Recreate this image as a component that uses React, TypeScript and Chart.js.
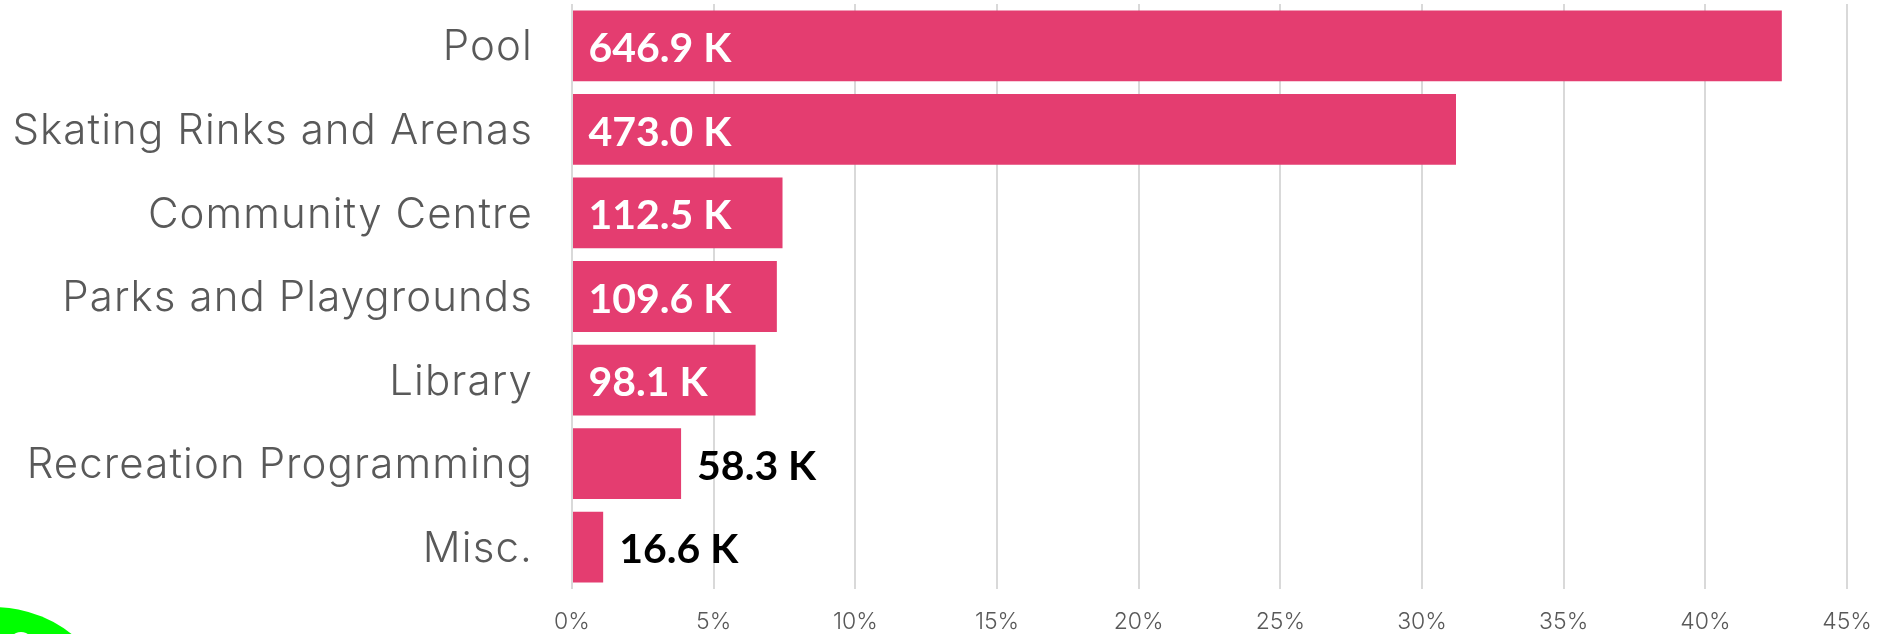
import React, { useEffect, useRef } from "react";
import { Chart, registerables } from "chart.js";

Chart.register(...registerables);

const categories = ["Pool", "Skating Rinks and Arenas", "Community Centre", "Parks and Playgrounds", "Library", "Recreation Programming", "Misc."];
const sharePercent = [42.7, 31.2, 7.43, 7.23, 6.48, 3.85, 1.1];
const valueLabels = ["646.9 K", "473.0 K", "112.5 K", "109.6 K", "98.1 K", "58.3 K", "16.6 K"];
const xTicks = [0, 5, 10, 15, 20, 25, 30, 35, 40, 45];

const AXIS_FONT = "Inter, 'Open Sans', sans-serif";
const VALUE_FONT = "Lato, 'Open Sans', sans-serif";

const valueLabelPlugin = {
  id: "valueLabels",
  afterDatasetsDraw(chart: any) {
    const { ctx } = chart;
    const meta = chart.getDatasetMeta(0);
    ctx.save();
    ctx.font = `bold 41px ${VALUE_FONT}`;
    ctx.textBaseline = "middle";
    ctx.textAlign = "left";
    meta.data.forEach((bar: any, i: number) => {
      const text = valueLabels[i];
      const w = ctx.measureText(text).width;
      const barLen = bar.x - bar.base;
      if (w + 34 < barLen) {
        ctx.fillStyle = "#FFFFFF";
        ctx.fillText(text, bar.base + 15.5, bar.y + 3);
      } else {
        ctx.fillStyle = "#000000";
        ctx.fillText(text, bar.x + 16, bar.y + 3);
      }
    });
    ctx.restore();
  },
};

export default function App() {
  const ref = useRef<HTMLCanvasElement | null>(null);
  useEffect(() => {
    document.body.style.margin = "0";
    const chart = new Chart(ref.current as HTMLCanvasElement, {
      type: "bar",
      data: {
        labels: categories,
        datasets: [
          {
            data: sharePercent,
            backgroundColor: "#E43D70",
            barPercentage: 0.847,
            categoryPercentage: 1,
          },
        ],
      },
      options: {
        indexAxis: "y",
        animation: false,
        responsive: false,
        layout: { padding: { top: 4, right: 41, bottom: 0, left: 0 } },
        plugins: { legend: { display: false }, tooltip: { enabled: false } },
        scales: {
          x: {
            min: 0,
            max: 45,
            afterBuildTicks: (axis: any) => {
              axis.ticks = xTicks.map((value) => ({ value }));
            },
            afterFit: (axis: any) => {
              axis.height = 45;
              axis.paddingLeft = 0;
              axis.paddingRight = 0;
            },
            grid: { color: "#D9D9D9", lineWidth: 2, drawTicks: false },
            border: { display: false },
            ticks: {
              color: "#595959",
              font: { family: AXIS_FONT, size: 23, weight: "300" },
              padding: 19,
              maxRotation: 0,
              callback: (v: any) => `${v}%`,
            },
          },
          y: {
            afterFit: (axis: any) => {
              axis.width = 572;
              axis.paddingTop = 0;
              axis.paddingBottom = 0;
              if (!axis.__spaced) {
                axis.__spaced = true;
                const drawLabels = axis.drawLabels;
                axis.drawLabels = function (area: any) {
                  const c = this.ctx;
                  c.save();
                  c.translate(1, 2);
                  c.letterSpacing = "1.1px";
                  drawLabels.call(this, area);
                  c.restore();
                };
              }
            },
            grid: { display: false, drawTicks: false },
            border: { display: false },
            ticks: {
              color: "#595959",
              font: { family: AXIS_FONT, size: 42, weight: "300" },
              padding: 40,
            },
          },
        },
      },
      plugins: [valueLabelPlugin],
    } as any);
    return () => chart.destroy();
  }, []);
  return (
    <div style={{ position: "relative", width: 1888, height: 634, overflow: "hidden", background: "#fff" }}>
      <canvas ref={ref} width={1888} height={634} style={{ display: "block" }} />
      <div style={{ position: "absolute", left: -131, top: 607, width: 250, height: 250, borderRadius: "50%", background: "#00FF00" }} />
      <div style={{ position: "absolute", left: 8, top: 632, width: 26, height: 26, borderRadius: "50%", background: "#fff" }} />
    </div>
  );
}
